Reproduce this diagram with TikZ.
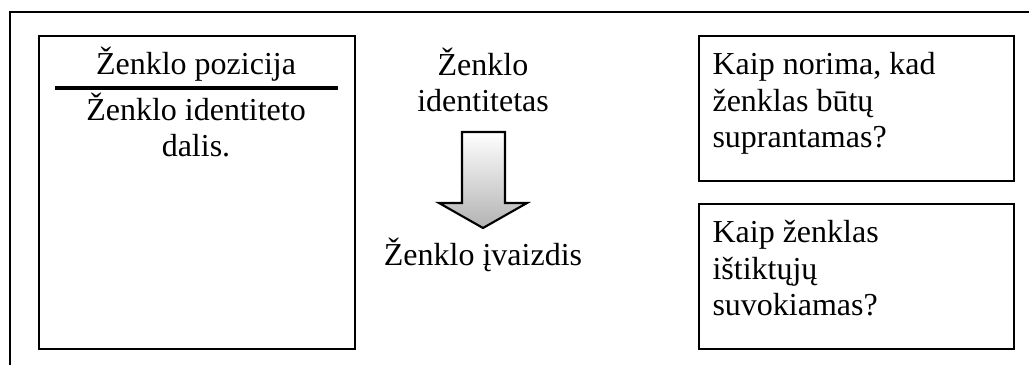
\documentclass[tikz,border=0pt]{standalone}
\usepackage{fontspec}
\setmainfont{Liberation Serif}
\usetikzlibrary{positioning}
\tikzset{x=0.375pt,y=-0.375pt,
  box/.style={draw,line width=0.8pt,inner sep=0pt,anchor=north west},
  txt/.style={inner sep=0pt,font=\fontsize{12}{13.8}\selectfont}}

\begin{document}
\begin{tikzpicture}
        \useasboundingbox (0,0) rectangle (1029,365);
        % frame
        \draw [line width=0.75pt] (10,365) -- (10,12) -- (1029,12);

        \node [box,minimum width=118.5pt,minimum height=117.4pt] (pozicija) at (38,35) {};
        \node [box,minimum width=118.1pt,minimum height=54.4pt] (norima) at (698,35) {};
        \node [box,minimum width=118.1pt,minimum height=54.4pt] (suvokiamas) [below=7.8pt of norima] {};

        % multi-line nodes sit on the baseline of their last line
        \node [txt,anchor=base] (poz) at (196,75) {Ženklo pozicija};
        \draw [line width=1.2pt] (55,88) -- (338,88);
        \node [txt,anchor=base,align=center] (dalis) at (196,157) {Ženklo identiteto\\dalis.};

        \node [txt,anchor=base,align=center] (ident) at (483,112) {Ženklo\\identitetas};
        \node [txt,anchor=base] (ivaizdis) at (483,266) {Ženklo įvaizdis};
        \shadedraw [top color=white,bottom color=black!30,line width=0.8pt]
          (462,132) -- (505,132) -- (505,203) -- (527,203) -- (483,228)
          -- (439,203) -- (462,203) -- cycle;

        \node [txt,anchor=base west,align=left] at (712,148) {Kaip norima, kad\\ženklas būtų\\suprantamas?};
        \node [txt,anchor=base west,align=left] at (712,316) {Kaip ženklas\\ištiktųjų\\suvokiamas?};
      \end{tikzpicture}
\end{document}
